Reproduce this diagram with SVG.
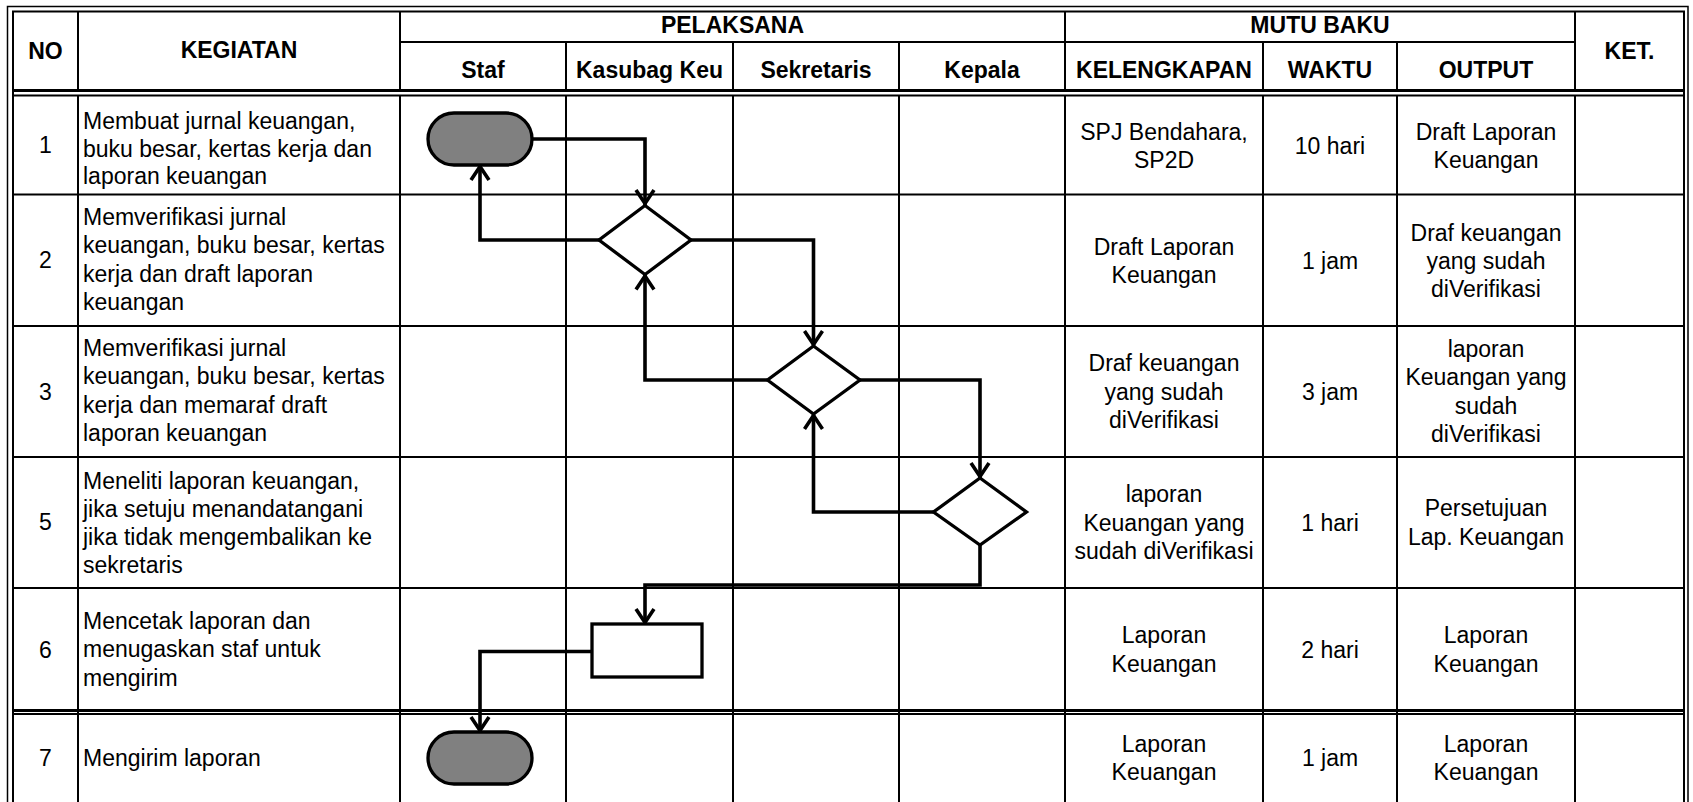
<svg xmlns="http://www.w3.org/2000/svg" width="1693" height="802" viewBox="0 0 1693 802">
<style>
.bg{fill:#fff}
.g{stroke:#000;stroke-width:2;fill:none}
.gt{stroke:#000;stroke-width:3;fill:none}
.o{stroke:#000;stroke-width:1.5;fill:none}
.h{font-family:"Liberation Sans",Arial,sans-serif;font-size:23px;font-weight:bold;fill:#000;text-anchor:middle}
.t{font-family:"Liberation Sans",Arial,sans-serif;font-size:23px;fill:#000}
.c{text-anchor:middle}
.term{fill:#808080;stroke:#000;stroke-width:3.3}
.dec{fill:#fff;stroke:#000;stroke-width:3.3}
.conn{fill:none;stroke:#000;stroke-width:3.6;marker-end:url(#arr)}
</style>
<defs>
<marker id="arr" markerUnits="userSpaceOnUse" viewBox="-20 -12 24 24" refX="0" refY="0" markerWidth="24" markerHeight="24" orient="auto" overflow="visible">
<path d="M-15,-9 L-1.5,0 L-15,9" fill="none" stroke="#000" stroke-width="3.6" stroke-linejoin="miter"/>
</marker>
</defs>
<rect class="bg" x="0" y="0" width="1693" height="802"/>

<g id="table">
<path class="o" d="M7.5,810 V6.5 H1688 V810"/>
<path class="g" d="M13,810 V11.5 H1684 V810"/>
<line class="g" x1="400" y1="42" x2="1575" y2="42"/>
<line class="gt" x1="13" y1="90.5" x2="1684" y2="90.5"/>
<line class="g" x1="13" y1="95.5" x2="1684" y2="95.5"/>
<g class="g">
<line x1="78" y1="11" x2="78" y2="90"/>
<line x1="400" y1="11" x2="400" y2="90"/>
<line x1="566" y1="42" x2="566" y2="90"/>
<line x1="733" y1="42" x2="733" y2="90"/>
<line x1="899" y1="42" x2="899" y2="90"/>
<line x1="1065" y1="11" x2="1065" y2="90"/>
<line x1="1263" y1="42" x2="1263" y2="90"/>
<line x1="1397" y1="42" x2="1397" y2="90"/>
<line x1="1575" y1="11" x2="1575" y2="90"/>
</g>
<g class="g">
<line x1="78" y1="95" x2="78" y2="802"/>
<line x1="400" y1="95" x2="400" y2="802"/>
<line x1="566" y1="95" x2="566" y2="802"/>
<line x1="733" y1="95" x2="733" y2="802"/>
<line x1="899" y1="95" x2="899" y2="802"/>
<line x1="1065" y1="95" x2="1065" y2="802"/>
<line x1="1263" y1="95" x2="1263" y2="802"/>
<line x1="1397" y1="95" x2="1397" y2="802"/>
<line x1="1575" y1="95" x2="1575" y2="802"/>
<line x1="13" y1="194.5" x2="1684" y2="194.5"/>
<line x1="13" y1="326" x2="1684" y2="326"/>
<line x1="13" y1="457" x2="1684" y2="457"/>
<line x1="13" y1="588" x2="1684" y2="588"/>
<line x1="13" y1="714" x2="1684" y2="714"/>
</g>
<line class="gt" x1="13" y1="710.5" x2="1684" y2="710.5"/>

<text class="h" x="45.5" y="59">NO</text>
<text class="h" x="239" y="58">KEGIATAN</text>
<text class="h" x="732.5" y="33">PELAKSANA</text>
<text class="h" x="1320" y="33">MUTU BAKU</text>
<text class="h" x="1629.5" y="59">KET.</text>
<text class="h" x="483" y="78">Staf</text>
<text class="h" x="649.5" y="78">Kasubag Keu</text>
<text class="h" x="816" y="78">Sekretaris</text>
<text class="h" x="982" y="78">Kepala</text>
<text class="h" x="1164" y="78">KELENGKAPAN</text>
<text class="h" x="1330" y="78">WAKTU</text>
<text class="h" x="1486" y="78">OUTPUT</text>
</g>

<g id="row1">
<text class="t c" x="45.5" y="152.5">1</text>
<text class="t" x="83" y="129">Membuat jurnal keuangan,</text>
<text class="t" x="83" y="156.5">buku besar, kertas kerja dan</text>
<text class="t" x="83" y="184">laporan keuangan</text>
<text class="t c" x="1164" y="140">SPJ Bendahara,</text>
<text class="t c" x="1164" y="168">SP2D</text>
<text class="t c" x="1330" y="153.5">10 hari</text>
<text class="t c" x="1486" y="140">Draft Laporan</text>
<text class="t c" x="1486" y="168">Keuangan</text>
</g>
<g id="row2">
<text class="t c" x="45.5" y="268">2</text>
<text class="t" x="83" y="225">Memverifikasi jurnal</text>
<text class="t" x="83" y="253.3">keuangan, buku besar, kertas</text>
<text class="t" x="83" y="281.6">kerja dan draft laporan</text>
<text class="t" x="83" y="310">keuangan</text>
<text class="t c" x="1164" y="255">Draft Laporan</text>
<text class="t c" x="1164" y="283.3">Keuangan</text>
<text class="t c" x="1330" y="269">1 jam</text>
<text class="t c" x="1486" y="240.7">Draf keuangan</text>
<text class="t c" x="1486" y="269">yang sudah</text>
<text class="t c" x="1486" y="297.3">diVerifikasi</text>
</g>
<g id="row3">
<text class="t c" x="45.5" y="399.5">3</text>
<text class="t" x="83" y="355.5">Memverifikasi jurnal</text>
<text class="t" x="83" y="384">keuangan, buku besar, kertas</text>
<text class="t" x="83" y="412.5">kerja dan memaraf draft</text>
<text class="t" x="83" y="441">laporan keuangan</text>
<text class="t c" x="1164" y="371.2">Draf keuangan</text>
<text class="t c" x="1164" y="399.5">yang sudah</text>
<text class="t c" x="1164" y="427.8">diVerifikasi</text>
<text class="t c" x="1330" y="399.5">3 jam</text>
<text class="t c" x="1486" y="357">laporan</text>
<text class="t c" x="1486" y="385.3">Keuangan yang</text>
<text class="t c" x="1486" y="413.6">sudah</text>
<text class="t c" x="1486" y="442">diVerifikasi</text>
</g>
<g id="row5">
<text class="t c" x="45.5" y="530">5</text>
<text class="t" x="83" y="488.5">Meneliti laporan keuangan,</text>
<text class="t" x="83" y="516.8">jika setuju menandatangani</text>
<text class="t" x="83" y="545">jika tidak mengembalikan ke</text>
<text class="t" x="83" y="573.3">sekretaris</text>
<text class="t c" x="1164" y="502.2">laporan</text>
<text class="t c" x="1164" y="530.5">Keuangan yang</text>
<text class="t c" x="1164" y="558.8">sudah diVerifikasi</text>
<text class="t c" x="1330" y="530.5">1 hari</text>
<text class="t c" x="1486" y="516.4">Persetujuan</text>
<text class="t c" x="1486" y="544.7">Lap. Keuangan</text>
</g>
<g id="row6">
<text class="t c" x="45.5" y="658">6</text>
<text class="t" x="83" y="629">Mencetak laporan dan</text>
<text class="t" x="83" y="657.3">menugaskan staf untuk</text>
<text class="t" x="83" y="685.6">mengirim</text>
<text class="t c" x="1164" y="643">Laporan</text>
<text class="t c" x="1164" y="671.5">Keuangan</text>
<text class="t c" x="1330" y="657.5">2 hari</text>
<text class="t c" x="1486" y="643">Laporan</text>
<text class="t c" x="1486" y="671.5">Keuangan</text>
</g>
<g id="row7">
<text class="t c" x="45.5" y="766">7</text>
<text class="t" x="83" y="766">Mengirim laporan</text>
<text class="t c" x="1164" y="751.5">Laporan</text>
<text class="t c" x="1164" y="780">Keuangan</text>
<text class="t c" x="1330" y="766">1 jam</text>
<text class="t c" x="1486" y="751.5">Laporan</text>
<text class="t c" x="1486" y="780">Keuangan</text>
</g>

<g id="connectors">
<path class="conn" d="M532,139 H645 V205"/>
<path class="conn" d="M599,240 H480 V165"/>
<path class="conn" d="M691,240 H813.5 V346"/>
<path class="conn" d="M767.5,380 H645 V274.5"/>
<path class="conn" d="M860,380 H980 V478"/>
<path class="conn" d="M933.5,512 H813.5 V414"/>
<path class="conn" d="M980,545 V585 H645 V624"/>
<path class="conn" d="M592,651.5 H480 V732"/>
</g>

<g id="start">
<rect class="term" x="428" y="113" width="104" height="52" rx="26" ry="26"/>
</g>
<g id="decision-kasubag">
<polygon class="dec" points="645,205.5 691,240 645,274.5 599,240"/>
</g>
<g id="decision-sekretaris">
<polygon class="dec" points="813.5,346 860,380 813.5,414 767.5,380"/>
</g>
<g id="decision-kepala">
<polygon class="dec" points="980,478 1026.5,512 980,545 933.5,512"/>
</g>
<g id="process-cetak">
<rect class="dec" x="592" y="624" width="110" height="53"/>
</g>
<g id="end">
<rect class="term" x="428" y="732" width="104" height="52" rx="26" ry="26"/>
</g>
</svg>
